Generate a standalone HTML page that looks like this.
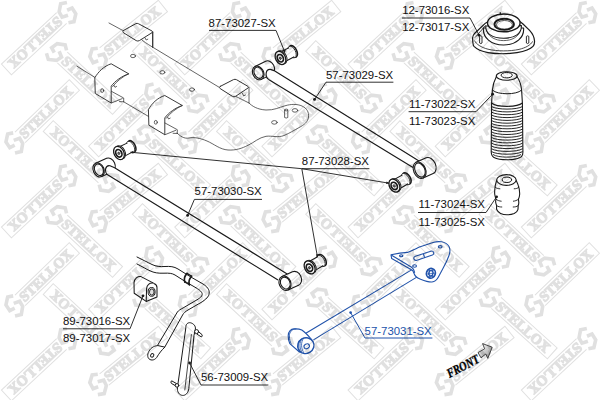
<!DOCTYPE html>
<html lang="en"><head><meta charset="utf-8"><title>Stellox parts diagram</title>
<style>
html,body{margin:0;padding:0;background:#fff;}
body{width:600px;height:400px;overflow:hidden;font-family:"Liberation Sans", sans-serif;}
svg{display:block;}
</style></head><body>
<svg width="600" height="400" viewBox="0 0 600 400" font-family='"Liberation Sans", sans-serif'>
<rect width="600" height="400" fill="#fff"/>
<g fill="none" stroke="#333" stroke-width="0.75" stroke-linejoin="round" stroke-linecap="round">
<path d="M109,23 L123,30.6"/>
<path d="M123.6,30.4 L135.8,23.7 Q137.2,23 138.6,23.8 L152,31 Q153.4,31.8 152,32.7 L139.4,40.6 Q137.8,41.5 136.2,40.6 L123.6,32.8 Q122,31.5 123.6,30.4 Z" stroke-width="1" fill="#fff"/>
<path d="M152.7,32.2 L152.7,47.2" stroke-width="1.3"/><path d="M141.6,39.6 Q143.6,41.8 152.7,47.2 M145,37.8 L146.2,40 L147.8,39.2"/>
<path d="M152.7,47.2 L219,87.2"/>
<path d="M220.2,86.4 L233.5,79.6 Q235,78.9 236.5,79.7 L248,86.4 Q249.3,87.2 248,88 L235.5,96.4 Q234,97.3 232.5,96.4 L220.2,88.6 Q218.6,87.4 220.2,86.4 Z" stroke-width="1" fill="#fff"/>
<path d="M249,87.5 L249,103 M236,96.5 L249,103 M242.5,93.5 L243.6,96 L245.5,95"/>
<path d="M249,103 C252,106 257,109.5 266,110 C274,110.3 279,107.5 285,105.8 C291,104 297,103.8 302,106 C307,108.5 309,112 308.5,117 C308,122 304,125 299,127.6 C294,130.3 290,133 284,135.5 C278,138 272,135.5 266,136.3 C259,137.5 254,142.5 248,145.3 C242,148.3 236,150.5 228,150 C220,149.5 214,144 207,141 C200,138 194,137 189,138 C184,139 180,136 177,133"/>
<ellipse cx="133" cy="56" rx="2.5" ry="1.7"/>
<ellipse cx="162.4" cy="72.3" rx="2.5" ry="1.7"/>
<ellipse cx="192" cy="89.6" rx="2.5" ry="1.7"/>
<ellipse cx="295" cy="110.4" rx="2.8" ry="1.8"/>
<ellipse cx="274.4" cy="122.4" rx="2.8" ry="1.8"/>
<path d="M284.6,110 L284.6,117.5 Q286.2,118.6 287.8,117.5 L287.8,110 M284.6,110 A1.6,0.9 0 1 1 287.8,110 A1.6,0.9 0 1 1 284.6,110"/>
<path d="M76.9,66.2 L95,77.5"/>
<g transform="translate(0,0)">
<path d="M95,77.5 C98,72 104,66 111.2,63.8 L128.7,73.8 C122,76 115,81 111.2,86.2 L111.2,103 L95.6,93.7 Z" fill="#fff" stroke-width="0.95"/>
<path d="M128.7,73.8 C122.5,76.6 116.5,81.5 112.6,86.6" />
<ellipse cx="102.2" cy="90.6" rx="1.5" ry="1.9"/>
<path d="M114,85.5 L115,87.3 L116.6,86.4"/>
<path d="M111.4,91.3 L123.7,98 L123.7,101.8 M111.4,103 L122.2,98.6 M119.5,101.6 L123.7,101.8"/>
</g>
<path d="M123.7,101.8 L148.8,116.6"/>
<g transform="translate(53.6,31.7)">
<path d="M95,77.5 C98,72 104,66 111.2,63.8 L128.7,73.8 C122,76 115,81 111.2,86.2 L111.2,103 L95.6,93.7 Z" fill="#fff" stroke-width="0.95"/>
<path d="M128.7,73.8 C122.5,76.6 116.5,81.5 112.6,86.6" />
<ellipse cx="102.2" cy="90.6" rx="1.5" ry="1.9"/>
<path d="M114,85.5 L115,87.3 L116.6,86.4"/>
<path d="M111.4,91.3 L123.7,98 L123.7,101.8 M111.4,103 L122.2,98.6 M119.5,101.6 L123.7,101.8"/>
</g>
</g>
<g transform="translate(258.2,72.9) rotate(-26)" stroke="#1a1a1a" fill="#fff" stroke-width="1.1">
<path d="M0,-7.2 L11.8,-7.2 A5.4,7.2 0 0 1 11.8,7.2 L0,7.2 Z"/>
<ellipse cx="0" cy="0" rx="5.4" ry="7.2"/>
<ellipse cx="0.35" cy="0" rx="4.25" ry="5.95" stroke-width="1.1"/>
</g>
<g fill="#fff" stroke="#1a1a1a" stroke-width="1.15" stroke-linejoin="round">
<path d="M274,70.6 L420.6,162 L413,167.6 L268.6,79.4 C266.6,78 265.8,75.4 266.2,73 C266.6,70.6 268.4,69.2 270.4,69.4 Z" stroke="none"/>
<path d="M420.6,162 L274,70.6 L270.4,69.4 C268.4,69.2 266.6,70.6 266.2,73 C265.8,75.4 266.6,78 268.6,79.4 L413,167.6" fill="none"/>
</g>
<g transform="translate(419.6,170.2) rotate(-24)" stroke="#1a1a1a" fill="#fff" stroke-width="1.1">
<path d="M0,-8.6 L11,-8.6 A6.0,8.6 0 0 1 11,8.6 L0,8.6 Z"/>
<ellipse cx="0" cy="0" rx="6.0" ry="8.6"/>
<ellipse cx="0.35" cy="0" rx="4.85" ry="7.35" stroke-width="1.1"/>
</g>
<g transform="translate(98.6,169.9) rotate(-24)" stroke="#1a1a1a" fill="#fff" stroke-width="1.1">
<path d="M0,-7.3 L12,-7.3 A5.4,7.3 0 0 1 12,7.3 L0,7.3 Z"/>
<ellipse cx="0" cy="0" rx="5.4" ry="7.3"/>
<ellipse cx="0.35" cy="0" rx="4.25" ry="6.05" stroke-width="1.1"/>
</g>
<g fill="#fff" stroke="#1a1a1a" stroke-width="1.15" stroke-linejoin="round">
<path d="M114.6,167.8 L288,274.4 L278,280 L107.6,174.8 C105.8,173.4 105.2,171 105.6,168.8 C106.2,166.6 108,165.4 110,165.8 Z" stroke="none"/>
<path d="M288,274.4 L114.6,167.8 L110,165.8 C108,165.4 106.2,166.6 105.6,168.8 C105.2,171 105.8,173.4 107.6,174.8 L278,280" fill="none"/>
</g>
<g transform="translate(285,283.2) rotate(-24)" stroke="#1a1a1a" fill="#fff" stroke-width="1.1">
<path d="M0,-7.4 L11.5,-7.4 A5.8,7.4 0 0 1 11.5,7.4 L0,7.4 Z"/>
<ellipse cx="0" cy="0" rx="5.8" ry="7.4"/>
<ellipse cx="0.35" cy="0" rx="4.65" ry="6.15" stroke-width="1.1"/>
</g>
<g transform="translate(280.5,57.9) rotate(-27) scale(1.0)" stroke="#1a1a1a" fill="#fff">
<ellipse cx="14.4" cy="0" rx="3.4" ry="6.3" stroke-width="1.5"/>
<ellipse cx="13" cy="0" rx="3.4" ry="6.3" stroke-width="0.8"/>
<path d="M1,-5.4 L12.8,-5.2 L12.8,5.2 L1,5.4 Z" stroke="none"/>
<path d="M1,-5.4 L12.2,-5.2 M2,5.4 L12.8,5.2" stroke-width="1"/>
<ellipse cx="1.3" cy="0" rx="4.9" ry="7.0" stroke-width="0.9"/>
<ellipse cx="0" cy="0" rx="4.9" ry="7.0" stroke-width="1.3"/>
<ellipse cx="-0.3" cy="0.2" rx="2.9" ry="3.9" stroke-width="1.7" fill="#fff"/>
<ellipse cx="-0.3" cy="0.2" rx="0.9" ry="1.2" stroke-width="0.8" fill="#888"/>
</g>
<g transform="translate(119,153) rotate(-27) scale(1.0)" stroke="#1a1a1a" fill="#fff">
<ellipse cx="14.4" cy="0" rx="3.4" ry="6.3" stroke-width="1.5"/>
<ellipse cx="13" cy="0" rx="3.4" ry="6.3" stroke-width="0.8"/>
<path d="M1,-5.4 L12.8,-5.2 L12.8,5.2 L1,5.4 Z" stroke="none"/>
<path d="M1,-5.4 L12.2,-5.2 M2,5.4 L12.8,5.2" stroke-width="1"/>
<ellipse cx="1.3" cy="0" rx="4.9" ry="7.0" stroke-width="0.9"/>
<ellipse cx="0" cy="0" rx="4.9" ry="7.0" stroke-width="1.3"/>
<ellipse cx="-0.3" cy="0.2" rx="2.9" ry="3.9" stroke-width="1.7" fill="#fff"/>
<ellipse cx="-0.3" cy="0.2" rx="0.9" ry="1.2" stroke-width="0.8" fill="#888"/>
</g>
<g transform="translate(394.4,185.6) rotate(-30) scale(1.0)" stroke="#1a1a1a" fill="#fff">
<ellipse cx="14.4" cy="0" rx="3.4" ry="6.3" stroke-width="1.5"/>
<ellipse cx="13" cy="0" rx="3.4" ry="6.3" stroke-width="0.8"/>
<path d="M1,-5.4 L12.8,-5.2 L12.8,5.2 L1,5.4 Z" stroke="none"/>
<path d="M1,-5.4 L12.2,-5.2 M2,5.4 L12.8,5.2" stroke-width="1"/>
<ellipse cx="1.3" cy="0" rx="4.9" ry="7.0" stroke-width="0.9"/>
<ellipse cx="0" cy="0" rx="4.9" ry="7.0" stroke-width="1.3"/>
<ellipse cx="-0.3" cy="0.2" rx="2.9" ry="3.9" stroke-width="1.7" fill="#fff"/>
<ellipse cx="-0.3" cy="0.2" rx="0.9" ry="1.2" stroke-width="0.8" fill="#888"/>
</g>
<g transform="translate(309.6,267.4) rotate(-30) scale(1.0)" stroke="#1a1a1a" fill="#fff">
<ellipse cx="14.4" cy="0" rx="3.4" ry="6.3" stroke-width="1.5"/>
<ellipse cx="13" cy="0" rx="3.4" ry="6.3" stroke-width="0.8"/>
<path d="M1,-5.4 L12.8,-5.2 L12.8,5.2 L1,5.4 Z" stroke="none"/>
<path d="M1,-5.4 L12.2,-5.2 M2,5.4 L12.8,5.2" stroke-width="1"/>
<ellipse cx="1.3" cy="0" rx="4.9" ry="7.0" stroke-width="0.9"/>
<ellipse cx="0" cy="0" rx="4.9" ry="7.0" stroke-width="1.3"/>
<ellipse cx="-0.3" cy="0.2" rx="2.9" ry="3.9" stroke-width="1.7" fill="#fff"/>
<ellipse cx="-0.3" cy="0.2" rx="0.9" ry="1.2" stroke-width="0.8" fill="#888"/>
</g>
<g fill="#fff" stroke="#1a1a1a" stroke-width="1" stroke-linejoin="round">
<path d="M472.6,38.4 C472.4,36.4 473.4,34.8 474.8,33.2 L485.2,23.4 C487.4,21.4 490,20.6 493,20.4 L514,19.8 C518,19.8 520.6,21.6 523,24 L529.6,30.4 C532.4,33.4 534.2,37 534.5,40.8 C534.7,43.4 534.4,45 533,46.4 C530,49.6 524,51.4 517,52.6 C508,54 497,54.1 488,52.6 C482,51.5 477,49.4 474,46.4 C472.8,45 472.7,41.6 472.6,38.4 Z" stroke-width="1.2"/>
<path d="M474.6,40.6 C476,44 481,47.4 488,49.2 C497,51.4 510,51.4 519,49.4 C525.6,47.8 530.6,45.2 532.6,41.4" fill="none" stroke-width="0.8"/>
<path d="M475,37.6 L485.6,25.4" fill="none" stroke-width="0.8"/>
<path d="M483.4,28 C482.6,37.6 491,45 503.5,45 C516,45 524.4,37.6 523.6,28 Z" stroke-width="1.1"/>
<path d="M485.8,26 C485.4,33.4 492,38.2 503.6,38.2 C515.2,38.2 521.8,33.4 521.4,25.6 Z" stroke-width="1.1"/>
<path d="M487,31.6 C489.4,36.8 495,40.6 503.6,40.6 C512.2,40.6 517.8,36.8 520.2,31.6" fill="none" stroke-width="0.7"/>
<ellipse cx="503.8" cy="22.9" rx="16.3" ry="8.9" stroke-width="1.4"/>
<ellipse cx="504.2" cy="24.3" rx="9.7" ry="5.6" stroke-width="1.9"/>
<ellipse cx="504.4" cy="24.8" rx="8" ry="4.3" stroke-width="0.7" fill="none"/>
<path d="M479.6,36.4 L479.6,43 Q480.8,44.2 482,43 L482,36.4 Q480.8,35.2 479.6,36.4 Z" stroke-width="0.9"/>
<path d="M526.4,36.4 L526.4,43 Q527.6,44.2 528.8,43 L528.8,36.4 Q527.6,35.2 526.4,36.4 Z" stroke-width="0.9"/>
<path d="M500.3,12.3 L500.3,14.2" stroke-width="1.3"/>
</g>
<g fill="#fff" stroke="#1a1a1a" stroke-width="1" stroke-linejoin="round">
<path d="M496.4,76.5 C494,81 492.8,86 492.4,90 L491.6,103 L491.2,152 C491.5,155.5 493,157 494,157.5 C498,159.6 503,159.8 507,159.8 C511,159.8 516,159.6 520,157.5 C521.5,157 522.8,155.5 522.9,152 L522.4,103 L521.6,90 C521.2,86 520,81 517,76.5 Z" stroke-width="1.1"/>
<ellipse cx="506.7" cy="76" rx="10.4" ry="4.2" stroke-width="1.1"/>
<ellipse cx="506.7" cy="75.2" rx="5.6" ry="2.7" stroke-width="1"/>
<path d="M492.4,90 C497,95 517,95 521.6,90" fill="none"/>
<path d="M491.6,103 C497,107.5 517,107.5 522.4,103" fill="none" stroke-width="1.1"/>
<path d="M491.3,106.4 C497,110.0 517,110.0 522.7,106.4" fill="none" stroke-width="0.95"/>
<path d="M491.3,109.2 C497,112.8 517,112.8 522.7,109.2" fill="none" stroke-width="0.95"/>
<path d="M491.3,112.0 C497,115.6 517,115.6 522.7,112.0" fill="none" stroke-width="0.95"/>
<path d="M491.3,114.9 C497,118.5 517,118.5 522.7,114.9" fill="none" stroke-width="0.95"/>
<path d="M491.3,117.7 C497,121.3 517,121.3 522.7,117.7" fill="none" stroke-width="0.95"/>
<path d="M491.3,120.5 C497,124.1 517,124.1 522.7,120.5" fill="none" stroke-width="0.95"/>
<path d="M491.3,123.3 C497,126.9 517,126.9 522.7,123.3" fill="none" stroke-width="0.95"/>
<path d="M491.3,126.1 C497,129.7 517,129.7 522.7,126.1" fill="none" stroke-width="0.95"/>
<path d="M491.3,129.0 C497,132.6 517,132.6 522.7,129.0" fill="none" stroke-width="0.95"/>
<path d="M491.3,131.8 C497,135.4 517,135.4 522.7,131.8" fill="none" stroke-width="0.95"/>
<path d="M491.3,134.6 C497,138.2 517,138.2 522.7,134.6" fill="none" stroke-width="0.95"/>
<path d="M491.3,137.4 C497,141.0 517,141.0 522.7,137.4" fill="none" stroke-width="0.95"/>
<path d="M491.3,140.2 C497,143.8 517,143.8 522.7,140.2" fill="none" stroke-width="0.95"/>
<path d="M491.3,143.1 C497,146.7 517,146.7 522.7,143.1" fill="none" stroke-width="0.95"/>
<path d="M491.3,145.9 C497,149.5 517,149.5 522.7,145.9" fill="none" stroke-width="0.95"/>
<path d="M491.3,148.7 C497,152.3 517,152.3 522.7,148.7" fill="none" stroke-width="0.95"/>
<path d="M491.3,151.5 C497,155.1 517,155.1 522.7,151.5" fill="none" stroke-width="0.95"/>
<path d="M493,154.5 C498,158 516,158 521,154.5" fill="none" stroke-width="0.9"/>
</g>
<g fill="#fff" stroke="#1a1a1a" stroke-width="1" stroke-linejoin="round" stroke-linecap="round">
<path d="M496.7,180.4 C495.4,184 494.9,187 494.9,188.8 C494.6,191 494.6,193 494.7,194 C495,196.5 495.6,198 496,199.2 C495.6,200.6 495.6,201.6 495.7,202.5 C496,204 496.4,205 496.7,205.7 C496.5,207 496.5,208.5 496.7,209.6 C497.6,211.6 499,212.8 500.6,213.5 C503,214.6 505,214.8 507,214.8 C509.6,214.8 512,214.4 514.2,213.5 C516,212.6 517.4,211.4 517.9,209.6 C518.1,208.4 518.2,207 518.1,205.7 C518.6,204.8 518.8,203.6 518.8,202.5 C518.7,201.4 518.5,200.2 518.4,199.2 C519.2,197.6 519.6,195.8 519.7,194 C519.6,192 519.4,190.4 519.2,188.8 C518.6,186 517.6,183 516.2,180.4 Z" stroke-width="1.1"/>
<ellipse cx="506.4" cy="180" rx="9.75" ry="5.4" stroke-width="1.1"/>
<ellipse cx="506.9" cy="179.8" rx="4.7" ry="2.7" stroke-width="1"/>
<path d="M495.2,187.2 C496.6,188.4 498.2,188.8 499.9,188.8 M518.9,187.2 C517.6,188.4 516,188.8 514.2,188.8 M496,199.2 C497.6,200.6 499.4,201 501.2,201.2 M518.4,199.2 C516.8,200.6 515,201 513.4,201.2 M496.7,205.7 C498.2,206.8 500,207 501.8,207 M518.1,205.7 C516.6,206.8 515,207 513.2,207" fill="none" stroke-width="0.9"/>
</g>
<g fill="none" stroke="#1a1a1a" stroke-width="1" stroke-linejoin="round" stroke-linecap="round">
<path d="M137,257 C143,260 147,262 152,264.5 C156,266.5 160,266.8 165,266.5 C170,266.2 174,266.5 178,269 L190,276.5 L203,284 C207,286.5 209.5,289.5 209.2,293 C209,296.5 206,299.5 201,302.5 L188,310 C185.4,311.6 183.6,313 182.6,315 L164.6,347.4 L157.4,345.6 L177.4,312 L183,308 L197,299.8 L202.2,294.5 L196,287.8 L175,275 L164,273.2 L150,270.8 L137,264 Z" fill="#fff" stroke="none"/>
<path d="M137,257 C143,260 147,262 152,264.5 C156,266.5 160,266.8 165,266.5 C170,266.2 174,266.5 178,269 L190,276.5 L203,284 C207,286.5 209.5,289.5 209.2,293 C209,296.5 206,299.5 201,302.5 L188,310 C185.4,311.6 183.6,313 182.6,315 L164.6,347.4"/>
<path d="M137,264 C143,267 146,269 150,270.8 C154,272.8 158,273.4 164,273.2 C169,273 172,273.2 175,275 L186,282 L196,287.8 C200,290.3 202.3,292 202.2,294.5 C202,296.5 200,298 197,299.8 L183,308 C180.4,309.4 178.6,310.4 177.4,312 L157.4,345.6"/>
<path d="M187,273.4 C184.8,275.8 183.8,279.2 184.8,282 M191.6,276.2 C189.4,278.6 188.4,282 189.4,284.8" stroke-width="1.7"/><path d="M187,273.4 L191.6,276.2 M184.8,282 L189.4,284.8" stroke-width="1.3"/>
<path d="M164.6,347.4 C161.6,350 159,353.6 156.6,357.6 C154.2,360.8 149.8,360.8 148.2,357.8 C146.8,354.6 148.6,350.4 152,347.6 C153.8,346.4 155.6,345.8 157.4,345.6 Z" fill="#fff"/>
<ellipse cx="152.2" cy="355.4" rx="1.5" ry="1.9" transform="rotate(35 152.2 355.4)"/>
</g>
<g fill="#fff" stroke="#1a1a1a" stroke-width="1.05" stroke-linejoin="round">
<path d="M134,282.6 C134.4,278.6 137.6,276 141,276.6 L154,283.4 C156,284.2 157,285.5 157,287.5 L157,297 L146.2,301.4 L134.2,293.2 Z"/>
<path d="M146.2,301.4 L146.6,288.5 C146.8,285 149.5,282.6 153,283" fill="none"/>
<ellipse cx="151.6" cy="291.9" rx="3.5" ry="4.4" stroke-width="1"/><ellipse cx="151.8" cy="292" rx="2.3" ry="3.1" stroke-width="0.9"/>
</g>
<g fill="#fff" stroke="#1a1a1a" stroke-width="1" stroke-linejoin="round" stroke-linecap="round">
<path d="M185.8,327.5 C185.6,324 188,322.2 190.6,322.8 C193.6,323.6 195.8,326 195.4,329 L194,335.4 L188.8,388.5 C188.4,392.6 185.6,395.8 182.4,395.4 C179.2,395 177,392 177.4,388 Z"/>
<path d="M191.4,334.6 L184.8,390" fill="none" stroke-width="0.8"/>
<path d="M198.4,331.6 L202,334.6 Q202.8,336 201.4,337 L197.4,334.4 Z"/>
<circle cx="196.6" cy="331.6" r="2"/>
<path d="M175.6,385.8 L171.4,383.4 Q170.2,382 171.6,380.8 L176.2,383.4 Z"/>
<circle cx="177" cy="385.4" r="1.8"/>
</g>
<g fill="#fff" stroke="#2153ab" stroke-width="1.1" stroke-linejoin="round" stroke-linecap="round">
<path d="M412,269.6 L305,333.8 L313.8,339.6 L416.4,277.4 Z" stroke="none"/>
<path d="M412,269.6 L305,333.8 M313.8,339.6 L416.4,277.4" fill="none"/>
<path d="M391,254.8 C396,253.8 402,252.8 407.5,252.4 C412,250.6 416,248.6 419.5,247 L433,242.6 C436,241.6 439,241.4 441.5,241.8 C445,242.4 447.5,244 449,246.5 C450.4,249 450.2,252 449,255.5 C447.4,260 445.4,264 443.2,268 L438.4,277 C436.8,280 435,281.8 432,282 C428,282.3 424,280.6 420,279 C417,277.8 415,276.5 414.3,274 L412.7,270.6 L391.7,258.6 Z"/>
<path d="M391.6,255.2 L411.6,267.2 C413.2,268.3 414.2,270 414.6,272.4" fill="none"/>
<ellipse cx="401.2" cy="255.8" rx="1.7" ry="1" />
<ellipse cx="440.2" cy="246.8" rx="1.9" ry="1.2" />
<ellipse cx="414.6" cy="266" rx="1.9" ry="1.2" />
<path d="M415.4,256.2 L430.8,251.2 C433.6,250.4 435,253.8 432.4,254.9 L417,260.2 C413.8,261.2 412.6,257.2 415.4,256.2 Z M423.4,253.8 L424.6,257.6"/>
<ellipse cx="430.9" cy="273.3" rx="4.4" ry="4.9" transform="rotate(20 430.9 273.3)" stroke-width="1.7"/>
<ellipse cx="430.9" cy="273.3" rx="2.2" ry="2.6" transform="rotate(20 430.9 273.3)" stroke-width="1.1" fill="none"/>
<path d="M427.6,271 L433.6,270.2 M427,274 L434.6,273.2 M428.2,276.8 L433.8,276.2 M429.4,269.6 L429.8,277.6 M432.2,269.2 L432.6,277.4" stroke-width="0.7" fill="none"/>
<path d="M294.8,328.9 C291,328.4 288.2,331.4 288.2,335.8 C288.2,339.6 288.8,342 289.8,343.6 L299.4,352 L312,340 C309,336.4 305.6,332.6 301.8,330 C299.6,329 297,328.8 294.8,328.9 Z"/>
<path d="M296,329 C292.2,328.8 289.4,331.8 289.4,335.8 C289.4,339.4 290,341.8 291,343.4" fill="none" stroke-width="0.9"/>
<ellipse cx="305.8" cy="345.7" rx="8.3" ry="7.8" transform="rotate(-30 305.8 345.7)" stroke-width="1.4"/>
<path d="M300.4,339.6 C298,342.6 297.8,347.4 300.2,351.6 M301.8,338.8 C299.4,342.4 299.2,347.8 302,352.4 M303.4,338.4 C300.8,342.4 300.8,348 303.8,352.8" fill="none" stroke-width="0.8"/>
<ellipse cx="306.7" cy="346.3" rx="2.8" ry="2.3" transform="rotate(-30 306.7 346.3)" stroke-width="1.1"/>
</g>
<g fill="none" stroke="#1a1a1a" stroke-width="0.9">
<path d="M209,30.4 L276,30.4 L284.6,51.6"/>
<path d="M402,18 L470,18 L479,35"/>
<path d="M393.4,82.2 L326,82.2 L314.6,99.4"/>
<path d="M408.6,111.7 L476,111.7 L492.4,94.4"/>
<path d="M369.4,168.7 L301.8,168.7 M130.4,152.2 L301.8,168.7 L389,183.2 M301.8,168.7 L317.4,256.6"/>
<path d="M262,199.4 L194.4,199.4 L187.6,215.4"/>
<path d="M418,212.5 L486,212.5 L496.6,196.8"/>
<path d="M63,328.8 L130,328.8 L143,295.8"/>
<path d="M268.4,385 L201,385 L189.6,363"/>
</g>
<path d="M432.4,338 L365,338 L350.6,312.6" fill="none" stroke="#2153ab" stroke-width="1"/>
<g fill="#1a1a1a">
<circle cx="314.5" cy="99.4" r="1.4"/>
<circle cx="492.6" cy="94.2" r="1.4"/>
<circle cx="187.6" cy="215.4" r="1.4"/>
<circle cx="496.6" cy="196.8" r="1.4"/>
<circle cx="143" cy="295.8" r="1.4"/>
<circle cx="189.6" cy="363" r="1.4"/>
<circle cx="479" cy="35.2" r="1.4"/>
<path d="M284.6,53 L282.3,49.5 L285.8,50.2 Z M130.6,152.3 L133.6,150.8 L133.4,153.6 Z M389.4,183.3 L386,184 L386.6,181.4 Z M317.6,257.6 L315.8,254.4 L318.6,254.2 Z"/>
</g>
<circle cx="350.6" cy="312.6" r="1.3" fill="#2153ab"/>
<g font-family='"Liberation Sans", sans-serif' font-size="11.4" fill="#111">
<text x="208.6" y="27" fill="#111">87-73027-SX</text>
<text x="402.2" y="13.8" fill="#111">12-73016-SX</text>
<text x="402.2" y="31.3" fill="#111">12-73017-SX</text>
<text x="326" y="78.9" fill="#111">57-73029-SX</text>
<text x="409" y="107.6" fill="#111">11-73022-SX</text>
<text x="409" y="125.2" fill="#111">11-73023-SX</text>
<text x="301.8" y="164.8" fill="#111">87-73028-SX</text>
<text x="194.6" y="195.2" fill="#111">57-73030-SX</text>
<text x="418.6" y="207.7" fill="#111">11-73024-SX</text>
<text x="418.6" y="225.5" fill="#111">11-73025-SX</text>
<text x="63" y="325.2" fill="#111">89-73016-SX</text>
<text x="63" y="341.7" fill="#111">89-73017-SX</text>
<text x="201" y="380.8" fill="#111">56-73009-SX</text>
<text x="364.6" y="334.5" fill="#2153ab">57-73031-SX</text>
</g>
<defs><linearGradient id="ag" x1="0" y1="0" x2="1" y2="1"><stop offset="0" stop-color="#ffffff"/><stop offset="1" stop-color="#9a9a9a"/></linearGradient></defs>
<path d="M478,352.6 L484.6,348.8 L482.6,343.6 L492.2,347.2 L487.8,358.4 L485.8,354 L481,357.8 Z" fill="url(#ag)" stroke="#222" stroke-width="0.8" stroke-linejoin="miter"/>
<text transform="translate(449.4,378) rotate(-27.5)" font-family='"Liberation Serif", serif' font-weight="bold" font-style="italic" font-size="13" fill="#000" stroke="#000" stroke-width="0.3" textLength="35" lengthAdjust="spacingAndGlyphs">FRONT</text>
<g opacity="0.125" fill="#000" stroke="#000" stroke-width="1.2" font-family='"Liberation Serif", serif' font-weight="bold" font-size="14.4">
<g transform="translate(67.5,12.5) rotate(137)"><g transform="rotate(-41)"><path d="M-2.2,0.6 L-5,-4.1 L0.4,-8.4 L8.4,-7.4 L10,-2 M2.6,-0.8 L5.2,4.9 L0.4,8.4 L-7.9,7.7 L-10,1.6" fill="none" stroke="#000" stroke-width="3.6" stroke-linejoin="miter"/></g><path d="M8,-7.3 L83.5,-7.3 L83.5,7.3 L8,7.3" fill="none" stroke="#000" stroke-width="1"/><text x="10" y="4.8" textLength="68" lengthAdjust="spacingAndGlyphs">STELLOX</text></g>
<g transform="translate(67.5,175.5) rotate(137)"><g transform="rotate(-41)"><path d="M-2.2,0.6 L-5,-4.1 L0.4,-8.4 L8.4,-7.4 L10,-2 M2.6,-0.8 L5.2,4.9 L0.4,8.4 L-7.9,7.7 L-10,1.6" fill="none" stroke="#000" stroke-width="3.6" stroke-linejoin="miter"/></g><path d="M8,-7.3 L83.5,-7.3 L83.5,7.3 L8,7.3" fill="none" stroke="#000" stroke-width="1"/><text x="10" y="4.8" textLength="68" lengthAdjust="spacingAndGlyphs">STELLOX</text></g>
<g transform="translate(67.5,338.5) rotate(137)"><g transform="rotate(-41)"><path d="M-2.2,0.6 L-5,-4.1 L0.4,-8.4 L8.4,-7.4 L10,-2 M2.6,-0.8 L5.2,4.9 L0.4,8.4 L-7.9,7.7 L-10,1.6" fill="none" stroke="#000" stroke-width="3.6" stroke-linejoin="miter"/></g><path d="M8,-7.3 L83.5,-7.3 L83.5,7.3 L8,7.3" fill="none" stroke="#000" stroke-width="1"/><text x="10" y="4.8" textLength="68" lengthAdjust="spacingAndGlyphs">STELLOX</text></g>
<g transform="translate(240.8,12.5) rotate(137)"><g transform="rotate(-41)"><path d="M-2.2,0.6 L-5,-4.1 L0.4,-8.4 L8.4,-7.4 L10,-2 M2.6,-0.8 L5.2,4.9 L0.4,8.4 L-7.9,7.7 L-10,1.6" fill="none" stroke="#000" stroke-width="3.6" stroke-linejoin="miter"/></g><path d="M8,-7.3 L83.5,-7.3 L83.5,7.3 L8,7.3" fill="none" stroke="#000" stroke-width="1"/><text x="10" y="4.8" textLength="68" lengthAdjust="spacingAndGlyphs">STELLOX</text></g>
<g transform="translate(240.8,175.5) rotate(137)"><g transform="rotate(-41)"><path d="M-2.2,0.6 L-5,-4.1 L0.4,-8.4 L8.4,-7.4 L10,-2 M2.6,-0.8 L5.2,4.9 L0.4,8.4 L-7.9,7.7 L-10,1.6" fill="none" stroke="#000" stroke-width="3.6" stroke-linejoin="miter"/></g><path d="M8,-7.3 L83.5,-7.3 L83.5,7.3 L8,7.3" fill="none" stroke="#000" stroke-width="1"/><text x="10" y="4.8" textLength="68" lengthAdjust="spacingAndGlyphs">STELLOX</text></g>
<g transform="translate(240.8,338.5) rotate(137)"><g transform="rotate(-41)"><path d="M-2.2,0.6 L-5,-4.1 L0.4,-8.4 L8.4,-7.4 L10,-2 M2.6,-0.8 L5.2,4.9 L0.4,8.4 L-7.9,7.7 L-10,1.6" fill="none" stroke="#000" stroke-width="3.6" stroke-linejoin="miter"/></g><path d="M8,-7.3 L83.5,-7.3 L83.5,7.3 L8,7.3" fill="none" stroke="#000" stroke-width="1"/><text x="10" y="4.8" textLength="68" lengthAdjust="spacingAndGlyphs">STELLOX</text></g>
<g transform="translate(414.1,12.5) rotate(137)"><g transform="rotate(-41)"><path d="M-2.2,0.6 L-5,-4.1 L0.4,-8.4 L8.4,-7.4 L10,-2 M2.6,-0.8 L5.2,4.9 L0.4,8.4 L-7.9,7.7 L-10,1.6" fill="none" stroke="#000" stroke-width="3.6" stroke-linejoin="miter"/></g><path d="M8,-7.3 L83.5,-7.3 L83.5,7.3 L8,7.3" fill="none" stroke="#000" stroke-width="1"/><text x="10" y="4.8" textLength="68" lengthAdjust="spacingAndGlyphs">STELLOX</text></g>
<g transform="translate(414.1,175.5) rotate(137)"><g transform="rotate(-41)"><path d="M-2.2,0.6 L-5,-4.1 L0.4,-8.4 L8.4,-7.4 L10,-2 M2.6,-0.8 L5.2,4.9 L0.4,8.4 L-7.9,7.7 L-10,1.6" fill="none" stroke="#000" stroke-width="3.6" stroke-linejoin="miter"/></g><path d="M8,-7.3 L83.5,-7.3 L83.5,7.3 L8,7.3" fill="none" stroke="#000" stroke-width="1"/><text x="10" y="4.8" textLength="68" lengthAdjust="spacingAndGlyphs">STELLOX</text></g>
<g transform="translate(414.1,338.5) rotate(137)"><g transform="rotate(-41)"><path d="M-2.2,0.6 L-5,-4.1 L0.4,-8.4 L8.4,-7.4 L10,-2 M2.6,-0.8 L5.2,4.9 L0.4,8.4 L-7.9,7.7 L-10,1.6" fill="none" stroke="#000" stroke-width="3.6" stroke-linejoin="miter"/></g><path d="M8,-7.3 L83.5,-7.3 L83.5,7.3 L8,7.3" fill="none" stroke="#000" stroke-width="1"/><text x="10" y="4.8" textLength="68" lengthAdjust="spacingAndGlyphs">STELLOX</text></g>
<g transform="translate(587.4,12.5) rotate(137)"><g transform="rotate(-41)"><path d="M-2.2,0.6 L-5,-4.1 L0.4,-8.4 L8.4,-7.4 L10,-2 M2.6,-0.8 L5.2,4.9 L0.4,8.4 L-7.9,7.7 L-10,1.6" fill="none" stroke="#000" stroke-width="3.6" stroke-linejoin="miter"/></g><path d="M8,-7.3 L83.5,-7.3 L83.5,7.3 L8,7.3" fill="none" stroke="#000" stroke-width="1"/><text x="10" y="4.8" textLength="68" lengthAdjust="spacingAndGlyphs">STELLOX</text></g>
<g transform="translate(587.4,175.5) rotate(137)"><g transform="rotate(-41)"><path d="M-2.2,0.6 L-5,-4.1 L0.4,-8.4 L8.4,-7.4 L10,-2 M2.6,-0.8 L5.2,4.9 L0.4,8.4 L-7.9,7.7 L-10,1.6" fill="none" stroke="#000" stroke-width="3.6" stroke-linejoin="miter"/></g><path d="M8,-7.3 L83.5,-7.3 L83.5,7.3 L8,7.3" fill="none" stroke="#000" stroke-width="1"/><text x="10" y="4.8" textLength="68" lengthAdjust="spacingAndGlyphs">STELLOX</text></g>
<g transform="translate(587.4,338.5) rotate(137)"><g transform="rotate(-41)"><path d="M-2.2,0.6 L-5,-4.1 L0.4,-8.4 L8.4,-7.4 L10,-2 M2.6,-0.8 L5.2,4.9 L0.4,8.4 L-7.9,7.7 L-10,1.6" fill="none" stroke="#000" stroke-width="3.6" stroke-linejoin="miter"/></g><path d="M8,-7.3 L83.5,-7.3 L83.5,7.3 L8,7.3" fill="none" stroke="#000" stroke-width="1"/><text x="10" y="4.8" textLength="68" lengthAdjust="spacingAndGlyphs">STELLOX</text></g>
<g transform="translate(56.5,52.0) rotate(43)"><g transform="rotate(-41)"><path d="M-2.2,0.6 L-5,-4.1 L0.4,-8.4 L8.4,-7.4 L10,-2 M2.6,-0.8 L5.2,4.9 L0.4,8.4 L-7.9,7.7 L-10,1.6" fill="none" stroke="#000" stroke-width="3.6" stroke-linejoin="miter"/></g><path d="M8,-7.3 L83.5,-7.3 L83.5,7.3 L8,7.3" fill="none" stroke="#000" stroke-width="1"/><text x="10" y="4.8" textLength="68" lengthAdjust="spacingAndGlyphs">STELLOX</text></g>
<g transform="translate(56.5,215.0) rotate(43)"><g transform="rotate(-41)"><path d="M-2.2,0.6 L-5,-4.1 L0.4,-8.4 L8.4,-7.4 L10,-2 M2.6,-0.8 L5.2,4.9 L0.4,8.4 L-7.9,7.7 L-10,1.6" fill="none" stroke="#000" stroke-width="3.6" stroke-linejoin="miter"/></g><path d="M8,-7.3 L83.5,-7.3 L83.5,7.3 L8,7.3" fill="none" stroke="#000" stroke-width="1"/><text x="10" y="4.8" textLength="68" lengthAdjust="spacingAndGlyphs">STELLOX</text></g>
<g transform="translate(229.8,52.0) rotate(43)"><g transform="rotate(-41)"><path d="M-2.2,0.6 L-5,-4.1 L0.4,-8.4 L8.4,-7.4 L10,-2 M2.6,-0.8 L5.2,4.9 L0.4,8.4 L-7.9,7.7 L-10,1.6" fill="none" stroke="#000" stroke-width="3.6" stroke-linejoin="miter"/></g><path d="M8,-7.3 L83.5,-7.3 L83.5,7.3 L8,7.3" fill="none" stroke="#000" stroke-width="1"/><text x="10" y="4.8" textLength="68" lengthAdjust="spacingAndGlyphs">STELLOX</text></g>
<g transform="translate(229.8,215.0) rotate(43)"><g transform="rotate(-41)"><path d="M-2.2,0.6 L-5,-4.1 L0.4,-8.4 L8.4,-7.4 L10,-2 M2.6,-0.8 L5.2,4.9 L0.4,8.4 L-7.9,7.7 L-10,1.6" fill="none" stroke="#000" stroke-width="3.6" stroke-linejoin="miter"/></g><path d="M8,-7.3 L83.5,-7.3 L83.5,7.3 L8,7.3" fill="none" stroke="#000" stroke-width="1"/><text x="10" y="4.8" textLength="68" lengthAdjust="spacingAndGlyphs">STELLOX</text></g>
<g transform="translate(403.1,52.0) rotate(43)"><g transform="rotate(-41)"><path d="M-2.2,0.6 L-5,-4.1 L0.4,-8.4 L8.4,-7.4 L10,-2 M2.6,-0.8 L5.2,4.9 L0.4,8.4 L-7.9,7.7 L-10,1.6" fill="none" stroke="#000" stroke-width="3.6" stroke-linejoin="miter"/></g><path d="M8,-7.3 L83.5,-7.3 L83.5,7.3 L8,7.3" fill="none" stroke="#000" stroke-width="1"/><text x="10" y="4.8" textLength="68" lengthAdjust="spacingAndGlyphs">STELLOX</text></g>
<g transform="translate(403.1,215.0) rotate(43)"><g transform="rotate(-41)"><path d="M-2.2,0.6 L-5,-4.1 L0.4,-8.4 L8.4,-7.4 L10,-2 M2.6,-0.8 L5.2,4.9 L0.4,8.4 L-7.9,7.7 L-10,1.6" fill="none" stroke="#000" stroke-width="3.6" stroke-linejoin="miter"/></g><path d="M8,-7.3 L83.5,-7.3 L83.5,7.3 L8,7.3" fill="none" stroke="#000" stroke-width="1"/><text x="10" y="4.8" textLength="68" lengthAdjust="spacingAndGlyphs">STELLOX</text></g>
<g transform="translate(98.0,58.5) rotate(-39)"><g transform="rotate(-41)"><path d="M-2.2,0.6 L-5,-4.1 L0.4,-8.4 L8.4,-7.4 L10,-2 M2.6,-0.8 L5.2,4.9 L0.4,8.4 L-7.9,7.7 L-10,1.6" fill="none" stroke="#000" stroke-width="3.6" stroke-linejoin="miter"/></g><path d="M8,-7.3 L83.5,-7.3 L83.5,7.3 L8,7.3" fill="none" stroke="#000" stroke-width="1"/><text x="10" y="4.8" textLength="68" lengthAdjust="spacingAndGlyphs">STELLOX</text></g>
<g transform="translate(98.0,221.5) rotate(-39)"><g transform="rotate(-41)"><path d="M-2.2,0.6 L-5,-4.1 L0.4,-8.4 L8.4,-7.4 L10,-2 M2.6,-0.8 L5.2,4.9 L0.4,8.4 L-7.9,7.7 L-10,1.6" fill="none" stroke="#000" stroke-width="3.6" stroke-linejoin="miter"/></g><path d="M8,-7.3 L83.5,-7.3 L83.5,7.3 L8,7.3" fill="none" stroke="#000" stroke-width="1"/><text x="10" y="4.8" textLength="68" lengthAdjust="spacingAndGlyphs">STELLOX</text></g>
<g transform="translate(98.0,384.5) rotate(-39)"><g transform="rotate(-41)"><path d="M-2.2,0.6 L-5,-4.1 L0.4,-8.4 L8.4,-7.4 L10,-2 M2.6,-0.8 L5.2,4.9 L0.4,8.4 L-7.9,7.7 L-10,1.6" fill="none" stroke="#000" stroke-width="3.6" stroke-linejoin="miter"/></g><path d="M8,-7.3 L83.5,-7.3 L83.5,7.3 L8,7.3" fill="none" stroke="#000" stroke-width="1"/><text x="10" y="4.8" textLength="68" lengthAdjust="spacingAndGlyphs">STELLOX</text></g>
<g transform="translate(271.3,58.5) rotate(-39)"><g transform="rotate(-41)"><path d="M-2.2,0.6 L-5,-4.1 L0.4,-8.4 L8.4,-7.4 L10,-2 M2.6,-0.8 L5.2,4.9 L0.4,8.4 L-7.9,7.7 L-10,1.6" fill="none" stroke="#000" stroke-width="3.6" stroke-linejoin="miter"/></g><path d="M8,-7.3 L83.5,-7.3 L83.5,7.3 L8,7.3" fill="none" stroke="#000" stroke-width="1"/><text x="10" y="4.8" textLength="68" lengthAdjust="spacingAndGlyphs">STELLOX</text></g>
<g transform="translate(271.3,221.5) rotate(-39)"><g transform="rotate(-41)"><path d="M-2.2,0.6 L-5,-4.1 L0.4,-8.4 L8.4,-7.4 L10,-2 M2.6,-0.8 L5.2,4.9 L0.4,8.4 L-7.9,7.7 L-10,1.6" fill="none" stroke="#000" stroke-width="3.6" stroke-linejoin="miter"/></g><path d="M8,-7.3 L83.5,-7.3 L83.5,7.3 L8,7.3" fill="none" stroke="#000" stroke-width="1"/><text x="10" y="4.8" textLength="68" lengthAdjust="spacingAndGlyphs">STELLOX</text></g>
<g transform="translate(271.3,384.5) rotate(-39)"><g transform="rotate(-41)"><path d="M-2.2,0.6 L-5,-4.1 L0.4,-8.4 L8.4,-7.4 L10,-2 M2.6,-0.8 L5.2,4.9 L0.4,8.4 L-7.9,7.7 L-10,1.6" fill="none" stroke="#000" stroke-width="3.6" stroke-linejoin="miter"/></g><path d="M8,-7.3 L83.5,-7.3 L83.5,7.3 L8,7.3" fill="none" stroke="#000" stroke-width="1"/><text x="10" y="4.8" textLength="68" lengthAdjust="spacingAndGlyphs">STELLOX</text></g>
<g transform="translate(444.6,58.5) rotate(-39)"><g transform="rotate(-41)"><path d="M-2.2,0.6 L-5,-4.1 L0.4,-8.4 L8.4,-7.4 L10,-2 M2.6,-0.8 L5.2,4.9 L0.4,8.4 L-7.9,7.7 L-10,1.6" fill="none" stroke="#000" stroke-width="3.6" stroke-linejoin="miter"/></g><path d="M8,-7.3 L83.5,-7.3 L83.5,7.3 L8,7.3" fill="none" stroke="#000" stroke-width="1"/><text x="10" y="4.8" textLength="68" lengthAdjust="spacingAndGlyphs">STELLOX</text></g>
<g transform="translate(444.6,221.5) rotate(-39)"><g transform="rotate(-41)"><path d="M-2.2,0.6 L-5,-4.1 L0.4,-8.4 L8.4,-7.4 L10,-2 M2.6,-0.8 L5.2,4.9 L0.4,8.4 L-7.9,7.7 L-10,1.6" fill="none" stroke="#000" stroke-width="3.6" stroke-linejoin="miter"/></g><path d="M8,-7.3 L83.5,-7.3 L83.5,7.3 L8,7.3" fill="none" stroke="#000" stroke-width="1"/><text x="10" y="4.8" textLength="68" lengthAdjust="spacingAndGlyphs">STELLOX</text></g>
<g transform="translate(444.6,384.5) rotate(-39)"><g transform="rotate(-41)"><path d="M-2.2,0.6 L-5,-4.1 L0.4,-8.4 L8.4,-7.4 L10,-2 M2.6,-0.8 L5.2,4.9 L0.4,8.4 L-7.9,7.7 L-10,1.6" fill="none" stroke="#000" stroke-width="3.6" stroke-linejoin="miter"/></g><path d="M8,-7.3 L83.5,-7.3 L83.5,7.3 L8,7.3" fill="none" stroke="#000" stroke-width="1"/><text x="10" y="4.8" textLength="68" lengthAdjust="spacingAndGlyphs">STELLOX</text></g>
<g transform="translate(198.0,103.5) rotate(223.5)"><g transform="rotate(-41)"><path d="M-2.2,0.6 L-5,-4.1 L0.4,-8.4 L8.4,-7.4 L10,-2 M2.6,-0.8 L5.2,4.9 L0.4,8.4 L-7.9,7.7 L-10,1.6" fill="none" stroke="#000" stroke-width="3.6" stroke-linejoin="miter"/></g><path d="M8,-7.3 L83.5,-7.3 L83.5,7.3 L8,7.3" fill="none" stroke="#000" stroke-width="1"/><text x="10" y="4.8" textLength="68" lengthAdjust="spacingAndGlyphs">STELLOX</text></g>
<g transform="translate(198.0,266.5) rotate(223.5)"><g transform="rotate(-41)"><path d="M-2.2,0.6 L-5,-4.1 L0.4,-8.4 L8.4,-7.4 L10,-2 M2.6,-0.8 L5.2,4.9 L0.4,8.4 L-7.9,7.7 L-10,1.6" fill="none" stroke="#000" stroke-width="3.6" stroke-linejoin="miter"/></g><path d="M8,-7.3 L83.5,-7.3 L83.5,7.3 L8,7.3" fill="none" stroke="#000" stroke-width="1"/><text x="10" y="4.8" textLength="68" lengthAdjust="spacingAndGlyphs">STELLOX</text></g>
<g transform="translate(371.3,103.5) rotate(223.5)"><g transform="rotate(-41)"><path d="M-2.2,0.6 L-5,-4.1 L0.4,-8.4 L8.4,-7.4 L10,-2 M2.6,-0.8 L5.2,4.9 L0.4,8.4 L-7.9,7.7 L-10,1.6" fill="none" stroke="#000" stroke-width="3.6" stroke-linejoin="miter"/></g><path d="M8,-7.3 L83.5,-7.3 L83.5,7.3 L8,7.3" fill="none" stroke="#000" stroke-width="1"/><text x="10" y="4.8" textLength="68" lengthAdjust="spacingAndGlyphs">STELLOX</text></g>
<g transform="translate(371.3,266.5) rotate(223.5)"><g transform="rotate(-41)"><path d="M-2.2,0.6 L-5,-4.1 L0.4,-8.4 L8.4,-7.4 L10,-2 M2.6,-0.8 L5.2,4.9 L0.4,8.4 L-7.9,7.7 L-10,1.6" fill="none" stroke="#000" stroke-width="3.6" stroke-linejoin="miter"/></g><path d="M8,-7.3 L83.5,-7.3 L83.5,7.3 L8,7.3" fill="none" stroke="#000" stroke-width="1"/><text x="10" y="4.8" textLength="68" lengthAdjust="spacingAndGlyphs">STELLOX</text></g>
<g transform="translate(544.6,103.5) rotate(223.5)"><g transform="rotate(-41)"><path d="M-2.2,0.6 L-5,-4.1 L0.4,-8.4 L8.4,-7.4 L10,-2 M2.6,-0.8 L5.2,4.9 L0.4,8.4 L-7.9,7.7 L-10,1.6" fill="none" stroke="#000" stroke-width="3.6" stroke-linejoin="miter"/></g><path d="M8,-7.3 L83.5,-7.3 L83.5,7.3 L8,7.3" fill="none" stroke="#000" stroke-width="1"/><text x="10" y="4.8" textLength="68" lengthAdjust="spacingAndGlyphs">STELLOX</text></g>
<g transform="translate(544.6,266.5) rotate(223.5)"><g transform="rotate(-41)"><path d="M-2.2,0.6 L-5,-4.1 L0.4,-8.4 L8.4,-7.4 L10,-2 M2.6,-0.8 L5.2,4.9 L0.4,8.4 L-7.9,7.7 L-10,1.6" fill="none" stroke="#000" stroke-width="3.6" stroke-linejoin="miter"/></g><path d="M8,-7.3 L83.5,-7.3 L83.5,7.3 L8,7.3" fill="none" stroke="#000" stroke-width="1"/><text x="10" y="4.8" textLength="68" lengthAdjust="spacingAndGlyphs">STELLOX</text></g>
<g transform="translate(154.2,94.0) rotate(136.5)"><g transform="rotate(-41)"><path d="M-2.2,0.6 L-5,-4.1 L0.4,-8.4 L8.4,-7.4 L10,-2 M2.6,-0.8 L5.2,4.9 L0.4,8.4 L-7.9,7.7 L-10,1.6" fill="none" stroke="#000" stroke-width="3.6" stroke-linejoin="miter"/></g><path d="M8,-7.3 L83.5,-7.3 L83.5,7.3 L8,7.3" fill="none" stroke="#000" stroke-width="1"/><text x="10" y="4.8" textLength="68" lengthAdjust="spacingAndGlyphs">STELLOX</text></g>
<g transform="translate(154.2,257.0) rotate(136.5)"><g transform="rotate(-41)"><path d="M-2.2,0.6 L-5,-4.1 L0.4,-8.4 L8.4,-7.4 L10,-2 M2.6,-0.8 L5.2,4.9 L0.4,8.4 L-7.9,7.7 L-10,1.6" fill="none" stroke="#000" stroke-width="3.6" stroke-linejoin="miter"/></g><path d="M8,-7.3 L83.5,-7.3 L83.5,7.3 L8,7.3" fill="none" stroke="#000" stroke-width="1"/><text x="10" y="4.8" textLength="68" lengthAdjust="spacingAndGlyphs">STELLOX</text></g>
<g transform="translate(327.5,94.0) rotate(136.5)"><g transform="rotate(-41)"><path d="M-2.2,0.6 L-5,-4.1 L0.4,-8.4 L8.4,-7.4 L10,-2 M2.6,-0.8 L5.2,4.9 L0.4,8.4 L-7.9,7.7 L-10,1.6" fill="none" stroke="#000" stroke-width="3.6" stroke-linejoin="miter"/></g><path d="M8,-7.3 L83.5,-7.3 L83.5,7.3 L8,7.3" fill="none" stroke="#000" stroke-width="1"/><text x="10" y="4.8" textLength="68" lengthAdjust="spacingAndGlyphs">STELLOX</text></g>
<g transform="translate(327.5,257.0) rotate(136.5)"><g transform="rotate(-41)"><path d="M-2.2,0.6 L-5,-4.1 L0.4,-8.4 L8.4,-7.4 L10,-2 M2.6,-0.8 L5.2,4.9 L0.4,8.4 L-7.9,7.7 L-10,1.6" fill="none" stroke="#000" stroke-width="3.6" stroke-linejoin="miter"/></g><path d="M8,-7.3 L83.5,-7.3 L83.5,7.3 L8,7.3" fill="none" stroke="#000" stroke-width="1"/><text x="10" y="4.8" textLength="68" lengthAdjust="spacingAndGlyphs">STELLOX</text></g>
<g transform="translate(500.8,94.0) rotate(136.5)"><g transform="rotate(-41)"><path d="M-2.2,0.6 L-5,-4.1 L0.4,-8.4 L8.4,-7.4 L10,-2 M2.6,-0.8 L5.2,4.9 L0.4,8.4 L-7.9,7.7 L-10,1.6" fill="none" stroke="#000" stroke-width="3.6" stroke-linejoin="miter"/></g><path d="M8,-7.3 L83.5,-7.3 L83.5,7.3 L8,7.3" fill="none" stroke="#000" stroke-width="1"/><text x="10" y="4.8" textLength="68" lengthAdjust="spacingAndGlyphs">STELLOX</text></g>
<g transform="translate(500.8,257.0) rotate(136.5)"><g transform="rotate(-41)"><path d="M-2.2,0.6 L-5,-4.1 L0.4,-8.4 L8.4,-7.4 L10,-2 M2.6,-0.8 L5.2,4.9 L0.4,8.4 L-7.9,7.7 L-10,1.6" fill="none" stroke="#000" stroke-width="3.6" stroke-linejoin="miter"/></g><path d="M8,-7.3 L83.5,-7.3 L83.5,7.3 L8,7.3" fill="none" stroke="#000" stroke-width="1"/><text x="10" y="4.8" textLength="68" lengthAdjust="spacingAndGlyphs">STELLOX</text></g>
<g transform="translate(143.7,134.5) rotate(42)"><g transform="rotate(-41)"><path d="M-2.2,0.6 L-5,-4.1 L0.4,-8.4 L8.4,-7.4 L10,-2 M2.6,-0.8 L5.2,4.9 L0.4,8.4 L-7.9,7.7 L-10,1.6" fill="none" stroke="#000" stroke-width="3.6" stroke-linejoin="miter"/></g><path d="M8,-7.3 L83.5,-7.3 L83.5,7.3 L8,7.3" fill="none" stroke="#000" stroke-width="1"/><text x="10" y="4.8" textLength="68" lengthAdjust="spacingAndGlyphs">STELLOX</text></g>
<g transform="translate(143.7,297.5) rotate(42)"><g transform="rotate(-41)"><path d="M-2.2,0.6 L-5,-4.1 L0.4,-8.4 L8.4,-7.4 L10,-2 M2.6,-0.8 L5.2,4.9 L0.4,8.4 L-7.9,7.7 L-10,1.6" fill="none" stroke="#000" stroke-width="3.6" stroke-linejoin="miter"/></g><path d="M8,-7.3 L83.5,-7.3 L83.5,7.3 L8,7.3" fill="none" stroke="#000" stroke-width="1"/><text x="10" y="4.8" textLength="68" lengthAdjust="spacingAndGlyphs">STELLOX</text></g>
<g transform="translate(317.0,134.5) rotate(42)"><g transform="rotate(-41)"><path d="M-2.2,0.6 L-5,-4.1 L0.4,-8.4 L8.4,-7.4 L10,-2 M2.6,-0.8 L5.2,4.9 L0.4,8.4 L-7.9,7.7 L-10,1.6" fill="none" stroke="#000" stroke-width="3.6" stroke-linejoin="miter"/></g><path d="M8,-7.3 L83.5,-7.3 L83.5,7.3 L8,7.3" fill="none" stroke="#000" stroke-width="1"/><text x="10" y="4.8" textLength="68" lengthAdjust="spacingAndGlyphs">STELLOX</text></g>
<g transform="translate(317.0,297.5) rotate(42)"><g transform="rotate(-41)"><path d="M-2.2,0.6 L-5,-4.1 L0.4,-8.4 L8.4,-7.4 L10,-2 M2.6,-0.8 L5.2,4.9 L0.4,8.4 L-7.9,7.7 L-10,1.6" fill="none" stroke="#000" stroke-width="3.6" stroke-linejoin="miter"/></g><path d="M8,-7.3 L83.5,-7.3 L83.5,7.3 L8,7.3" fill="none" stroke="#000" stroke-width="1"/><text x="10" y="4.8" textLength="68" lengthAdjust="spacingAndGlyphs">STELLOX</text></g>
<g transform="translate(490.2,134.5) rotate(42)"><g transform="rotate(-41)"><path d="M-2.2,0.6 L-5,-4.1 L0.4,-8.4 L8.4,-7.4 L10,-2 M2.6,-0.8 L5.2,4.9 L0.4,8.4 L-7.9,7.7 L-10,1.6" fill="none" stroke="#000" stroke-width="3.6" stroke-linejoin="miter"/></g><path d="M8,-7.3 L83.5,-7.3 L83.5,7.3 L8,7.3" fill="none" stroke="#000" stroke-width="1"/><text x="10" y="4.8" textLength="68" lengthAdjust="spacingAndGlyphs">STELLOX</text></g>
<g transform="translate(490.2,297.5) rotate(42)"><g transform="rotate(-41)"><path d="M-2.2,0.6 L-5,-4.1 L0.4,-8.4 L8.4,-7.4 L10,-2 M2.6,-0.8 L5.2,4.9 L0.4,8.4 L-7.9,7.7 L-10,1.6" fill="none" stroke="#000" stroke-width="3.6" stroke-linejoin="miter"/></g><path d="M8,-7.3 L83.5,-7.3 L83.5,7.3 L8,7.3" fill="none" stroke="#000" stroke-width="1"/><text x="10" y="4.8" textLength="68" lengthAdjust="spacingAndGlyphs">STELLOX</text></g>
<g transform="translate(14.3,143.0) rotate(-44)"><g transform="rotate(-41)"><path d="M-2.2,0.6 L-5,-4.1 L0.4,-8.4 L8.4,-7.4 L10,-2 M2.6,-0.8 L5.2,4.9 L0.4,8.4 L-7.9,7.7 L-10,1.6" fill="none" stroke="#000" stroke-width="3.6" stroke-linejoin="miter"/></g><path d="M8,-7.3 L83.5,-7.3 L83.5,7.3 L8,7.3" fill="none" stroke="#000" stroke-width="1"/><text x="10" y="4.8" textLength="68" lengthAdjust="spacingAndGlyphs">STELLOX</text></g>
<g transform="translate(14.3,306.0) rotate(-44)"><g transform="rotate(-41)"><path d="M-2.2,0.6 L-5,-4.1 L0.4,-8.4 L8.4,-7.4 L10,-2 M2.6,-0.8 L5.2,4.9 L0.4,8.4 L-7.9,7.7 L-10,1.6" fill="none" stroke="#000" stroke-width="3.6" stroke-linejoin="miter"/></g><path d="M8,-7.3 L83.5,-7.3 L83.5,7.3 L8,7.3" fill="none" stroke="#000" stroke-width="1"/><text x="10" y="4.8" textLength="68" lengthAdjust="spacingAndGlyphs">STELLOX</text></g>
<g transform="translate(187.7,143.0) rotate(-44)"><g transform="rotate(-41)"><path d="M-2.2,0.6 L-5,-4.1 L0.4,-8.4 L8.4,-7.4 L10,-2 M2.6,-0.8 L5.2,4.9 L0.4,8.4 L-7.9,7.7 L-10,1.6" fill="none" stroke="#000" stroke-width="3.6" stroke-linejoin="miter"/></g><path d="M8,-7.3 L83.5,-7.3 L83.5,7.3 L8,7.3" fill="none" stroke="#000" stroke-width="1"/><text x="10" y="4.8" textLength="68" lengthAdjust="spacingAndGlyphs">STELLOX</text></g>
<g transform="translate(187.7,306.0) rotate(-44)"><g transform="rotate(-41)"><path d="M-2.2,0.6 L-5,-4.1 L0.4,-8.4 L8.4,-7.4 L10,-2 M2.6,-0.8 L5.2,4.9 L0.4,8.4 L-7.9,7.7 L-10,1.6" fill="none" stroke="#000" stroke-width="3.6" stroke-linejoin="miter"/></g><path d="M8,-7.3 L83.5,-7.3 L83.5,7.3 L8,7.3" fill="none" stroke="#000" stroke-width="1"/><text x="10" y="4.8" textLength="68" lengthAdjust="spacingAndGlyphs">STELLOX</text></g>
<g transform="translate(361.0,143.0) rotate(-44)"><g transform="rotate(-41)"><path d="M-2.2,0.6 L-5,-4.1 L0.4,-8.4 L8.4,-7.4 L10,-2 M2.6,-0.8 L5.2,4.9 L0.4,8.4 L-7.9,7.7 L-10,1.6" fill="none" stroke="#000" stroke-width="3.6" stroke-linejoin="miter"/></g><path d="M8,-7.3 L83.5,-7.3 L83.5,7.3 L8,7.3" fill="none" stroke="#000" stroke-width="1"/><text x="10" y="4.8" textLength="68" lengthAdjust="spacingAndGlyphs">STELLOX</text></g>
<g transform="translate(361.0,306.0) rotate(-44)"><g transform="rotate(-41)"><path d="M-2.2,0.6 L-5,-4.1 L0.4,-8.4 L8.4,-7.4 L10,-2 M2.6,-0.8 L5.2,4.9 L0.4,8.4 L-7.9,7.7 L-10,1.6" fill="none" stroke="#000" stroke-width="3.6" stroke-linejoin="miter"/></g><path d="M8,-7.3 L83.5,-7.3 L83.5,7.3 L8,7.3" fill="none" stroke="#000" stroke-width="1"/><text x="10" y="4.8" textLength="68" lengthAdjust="spacingAndGlyphs">STELLOX</text></g>
<g transform="translate(534.3,143.0) rotate(-44)"><g transform="rotate(-41)"><path d="M-2.2,0.6 L-5,-4.1 L0.4,-8.4 L8.4,-7.4 L10,-2 M2.6,-0.8 L5.2,4.9 L0.4,8.4 L-7.9,7.7 L-10,1.6" fill="none" stroke="#000" stroke-width="3.6" stroke-linejoin="miter"/></g><path d="M8,-7.3 L83.5,-7.3 L83.5,7.3 L8,7.3" fill="none" stroke="#000" stroke-width="1"/><text x="10" y="4.8" textLength="68" lengthAdjust="spacingAndGlyphs">STELLOX</text></g>
<g transform="translate(534.3,306.0) rotate(-44)"><g transform="rotate(-41)"><path d="M-2.2,0.6 L-5,-4.1 L0.4,-8.4 L8.4,-7.4 L10,-2 M2.6,-0.8 L5.2,4.9 L0.4,8.4 L-7.9,7.7 L-10,1.6" fill="none" stroke="#000" stroke-width="3.6" stroke-linejoin="miter"/></g><path d="M8,-7.3 L83.5,-7.3 L83.5,7.3 L8,7.3" fill="none" stroke="#000" stroke-width="1"/><text x="10" y="4.8" textLength="68" lengthAdjust="spacingAndGlyphs">STELLOX</text></g>
<g transform="translate(109.3,183.0) rotate(223)"><g transform="rotate(-41)"><path d="M-2.2,0.6 L-5,-4.1 L0.4,-8.4 L8.4,-7.4 L10,-2 M2.6,-0.8 L5.2,4.9 L0.4,8.4 L-7.9,7.7 L-10,1.6" fill="none" stroke="#000" stroke-width="3.6" stroke-linejoin="miter"/></g><path d="M8,-7.3 L83.5,-7.3 L83.5,7.3 L8,7.3" fill="none" stroke="#000" stroke-width="1"/><text x="10" y="4.8" textLength="68" lengthAdjust="spacingAndGlyphs">STELLOX</text></g>
<g transform="translate(109.3,346.0) rotate(223)"><g transform="rotate(-41)"><path d="M-2.2,0.6 L-5,-4.1 L0.4,-8.4 L8.4,-7.4 L10,-2 M2.6,-0.8 L5.2,4.9 L0.4,8.4 L-7.9,7.7 L-10,1.6" fill="none" stroke="#000" stroke-width="3.6" stroke-linejoin="miter"/></g><path d="M8,-7.3 L83.5,-7.3 L83.5,7.3 L8,7.3" fill="none" stroke="#000" stroke-width="1"/><text x="10" y="4.8" textLength="68" lengthAdjust="spacingAndGlyphs">STELLOX</text></g>
<g transform="translate(282.6,183.0) rotate(223)"><g transform="rotate(-41)"><path d="M-2.2,0.6 L-5,-4.1 L0.4,-8.4 L8.4,-7.4 L10,-2 M2.6,-0.8 L5.2,4.9 L0.4,8.4 L-7.9,7.7 L-10,1.6" fill="none" stroke="#000" stroke-width="3.6" stroke-linejoin="miter"/></g><path d="M8,-7.3 L83.5,-7.3 L83.5,7.3 L8,7.3" fill="none" stroke="#000" stroke-width="1"/><text x="10" y="4.8" textLength="68" lengthAdjust="spacingAndGlyphs">STELLOX</text></g>
<g transform="translate(282.6,346.0) rotate(223)"><g transform="rotate(-41)"><path d="M-2.2,0.6 L-5,-4.1 L0.4,-8.4 L8.4,-7.4 L10,-2 M2.6,-0.8 L5.2,4.9 L0.4,8.4 L-7.9,7.7 L-10,1.6" fill="none" stroke="#000" stroke-width="3.6" stroke-linejoin="miter"/></g><path d="M8,-7.3 L83.5,-7.3 L83.5,7.3 L8,7.3" fill="none" stroke="#000" stroke-width="1"/><text x="10" y="4.8" textLength="68" lengthAdjust="spacingAndGlyphs">STELLOX</text></g>
<g transform="translate(456.0,183.0) rotate(223)"><g transform="rotate(-41)"><path d="M-2.2,0.6 L-5,-4.1 L0.4,-8.4 L8.4,-7.4 L10,-2 M2.6,-0.8 L5.2,4.9 L0.4,8.4 L-7.9,7.7 L-10,1.6" fill="none" stroke="#000" stroke-width="3.6" stroke-linejoin="miter"/></g><path d="M8,-7.3 L83.5,-7.3 L83.5,7.3 L8,7.3" fill="none" stroke="#000" stroke-width="1"/><text x="10" y="4.8" textLength="68" lengthAdjust="spacingAndGlyphs">STELLOX</text></g>
<g transform="translate(456.0,346.0) rotate(223)"><g transform="rotate(-41)"><path d="M-2.2,0.6 L-5,-4.1 L0.4,-8.4 L8.4,-7.4 L10,-2 M2.6,-0.8 L5.2,4.9 L0.4,8.4 L-7.9,7.7 L-10,1.6" fill="none" stroke="#000" stroke-width="3.6" stroke-linejoin="miter"/></g><path d="M8,-7.3 L83.5,-7.3 L83.5,7.3 L8,7.3" fill="none" stroke="#000" stroke-width="1"/><text x="10" y="4.8" textLength="68" lengthAdjust="spacingAndGlyphs">STELLOX</text></g>
</g>
</svg>
</body></html>
